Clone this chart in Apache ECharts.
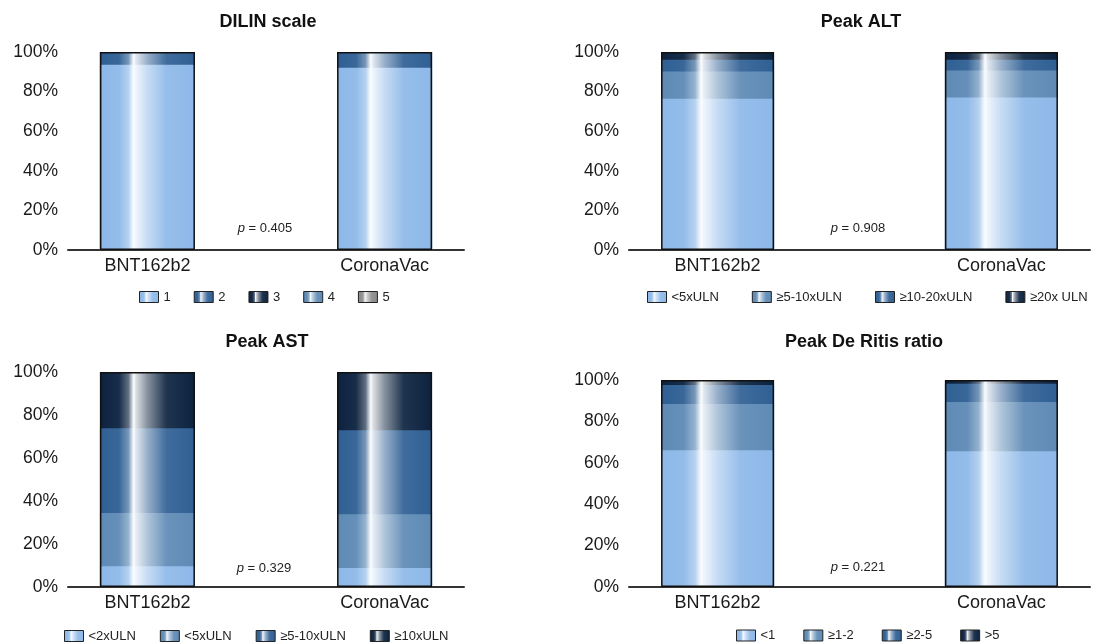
<!DOCTYPE html>
<html>
<head>
<meta charset="utf-8">
<script src="https://cdn.jsdelivr.net/npm/echarts@6/dist/echarts.min.js"></script>
<style>
  html, body { margin: 0; padding: 0; background: #fff; }
  #chart { width: 1098px; height: 643px; }
</style>
</head>
<body>
<div id="chart"></div>
<script>
// Data (% of patients per vaccine)
const categories = ['BNT162b2', 'CoronaVac'];

const dilinLevels = ['1', '2', '3', '4', '5'];
const dilinValues = [[93.6, 92.1], [6.4, 7.9], [0, 0], [0, 0], [0, 0]];

const altLevels = ['<5xULN', '≥5-10xULN', '≥10-20xULN', '≥20x ULN'];
const altValues = [[76.4, 77.0], [13.8, 13.7], [5.9, 5.4], [3.9, 3.9]];

const astLevels = ['<2xULN', '<5xULN', '≥5-10xULN', '≥10xULN'];
const astValues = [[9.6, 8.8], [24.8, 25.0], [39.4, 39.1], [26.2, 27.1]];

const ritisLevels = ['<1', '≥1-2', '≥2-5', '>5'];
const ritisValues = [[66.1, 65.6], [22.3, 23.8], [9.2, 8.8], [2.4, 1.8]];

const pValues = ['0.405', '0.908', '0.329', '0.221'];
const yTicks = [0, 20, 40, 60, 80, 100];

const LIGHT = '#8db8e8', STEEL = '#5e8ab5', DARK = '#2f5f94', NAVY = '#0c223f', GRAY = '#8a8a8a';
const FONT = '"Liberation Sans", Arial, sans-serif';

// mix a hex colour towards white
function mix(hex, t) {
    const n = parseInt(hex.slice(1), 16);
    const ch = [(n >> 16) & 255, (n >> 8) & 255, n & 255].map(v => Math.round(v + (255 - v) * t));
    return 'rgb(' + ch.join(',') + ')';
}

// the glossy vertical highlight used on every bar
function sheen(c) {
    return {
        type: 'linear', x: 0, y: 0, x2: 1, y2: 0,
        colorStops: [
            { offset: 0, color: c },
            { offset: 0.2, color: mix(c, 0.05) },
            { offset: 0.3, color: mix(c, 0.35) },
            { offset: 0.355, color: '#fbfdff' },
            { offset: 0.38, color: mix(c, 0.85) },
            { offset: 0.5, color: mix(c, 0.5) },
            { offset: 0.7, color: mix(c, 0.08) },
            { offset: 1, color: c },
        ],
    };
}

const panels = [
    { key: 'dilin', title: 'DILIN scale', levels: dilinLevels, values: dilinValues,
      colors: [LIGHT, DARK, NAVY, STEEL, GRAY],
      grid: { left: 68, right: 634, top: 52, bottom: 393 }, min: -0.335, max: 1.335, barWidth: 95,
      titleAt: [268, 22], pAt: [265, 228], legend: { left: 139, top: 290.5, gap: 23 } },
    { key: 'alt', title: 'Peak ALT', levels: altLevels, values: altValues,
      colors: [LIGHT, STEEL, DARK, NAVY],
      grid: { left: 629, right: 8, top: 52, bottom: 393 }, min: -0.312, max: 1.312, barWidth: 113,
      titleAt: [861, 22], pAt: [858, 228], legend: { left: 647, top: 290.5, gap: 33 } },
    { key: 'ast', title: 'Peak AST', levels: astLevels, values: astValues,
      colors: [LIGHT, STEEL, DARK, NAVY],
      grid: { left: 68, right: 634, top: 372, bottom: 56 }, min: -0.335, max: 1.335, barWidth: 95,
      titleAt: [267, 342], pAt: [264, 568], legend: { left: 64, top: 629.5, gap: 24 } },
    { key: 'ritis', title: 'Peak De Ritis ratio', levels: ritisLevels, values: ritisValues,
      colors: [LIGHT, STEEL, DARK, NAVY],
      grid: { left: 629, right: 8, top: 380, bottom: 56 }, min: -0.312, max: 1.312, barWidth: 113,
      titleAt: [864, 342], pAt: [858, 567.5], legend: { left: 736, top: 629, gap: 28 } },
];

const chart = echarts.init(document.getElementById('chart'));

const option = {
    animation: false,
    title: [], grid: [], xAxis: [], yAxis: [], legend: [], series: [], graphic: [],
};

panels.forEach((p, g) => {
    option.title.push({
        text: p.title, left: p.titleAt[0], top: p.titleAt[1], padding: 0,
        textAlign: 'center', textVerticalAlign: 'middle',
        textStyle: { fontFamily: FONT, fontSize: 18, fontWeight: 'bold', color: '#111' },
    });
    option.grid.push(p.grid);
    option.xAxis.push({
        type: 'value', gridIndex: g, min: p.min, max: p.max,
        axisLine: { show: true, lineStyle: { color: '#333', width: 2 } },
        axisTick: { show: false },
        splitLine: { show: false },
        axisLabel: {
            customValues: [0, 1],
            formatter: v => categories[Math.round(v)],
            fontFamily: FONT, fontSize: 18, color: '#1a1a1a', margin: 7,
        },
    });
    option.yAxis.push({
        type: 'value', gridIndex: g, min: 0, max: 100, interval: 20,
        axisLine: { show: false }, axisTick: { show: false }, splitLine: { show: false },
        axisLabel: {
            formatter: v => yTicks.includes(v) ? v + '%' : '',
            fontFamily: FONT, fontSize: 17.5, color: '#1a1a1a', margin: 10,
        },
    });

    // running totals so each level can be drawn as a bar from 0 up to its top edge
    const cum = p.values.map((_, i) =>
        categories.map((c, j) => p.values.slice(0, i + 1).reduce((s, row) => s + row[j], 0)));

    // draw top level first so lower levels sit above it
    for (let i = p.levels.length - 1; i >= 0; i--) {
        option.series.push({
            type: 'bar', name: p.key + '|' + p.levels[i],
            xAxisIndex: g, yAxisIndex: g,
            barWidth: p.barWidth, barGap: '-100%',
            data: categories.map((c, j) => [j, cum[i][j]]),
            itemStyle: { color: sheen(p.colors[i]) },
            emphasis: { disabled: true },
        });
    }
    // outline round the whole stack
    option.series.push({
        type: 'bar', name: p.key + '|frame', silent: true,
        xAxisIndex: g, yAxisIndex: g,
        barWidth: p.barWidth, barGap: '-100%',
        data: categories.map((c, j) => [j, cum[cum.length - 1][j]]),
        itemStyle: { color: 'rgba(0,0,0,0)', borderColor: '#111', borderWidth: 1.5 },
        emphasis: { disabled: true },
    });

    option.legend.push({
        data: p.levels.map(l => p.key + '|' + l),
        formatter: name => name.split('|')[1],
        left: p.legend.left, top: p.legend.top, padding: 0,
        itemGap: p.legend.gap, itemWidth: 19, itemHeight: 11, icon: 'rect',
        itemStyle: { borderColor: '#222', borderWidth: 1 },
        textStyle: { fontFamily: FONT, fontSize: 13, color: '#222' },
    });

    option.graphic.push({
        type: 'text', x: p.pAt[0], y: p.pAt[1], silent: true,
        style: {
            text: '{i|p} = ' + pValues[g],
            align: 'center', verticalAlign: 'middle',
            font: '13px ' + FONT, fill: '#222',
            rich: { i: { fontStyle: 'italic', fontSize: 13, fontFamily: FONT } },
        },
    });
});

chart.setOption(option);
window.addEventListener('resize', () => chart.resize());
</script>
</body>
</html>
